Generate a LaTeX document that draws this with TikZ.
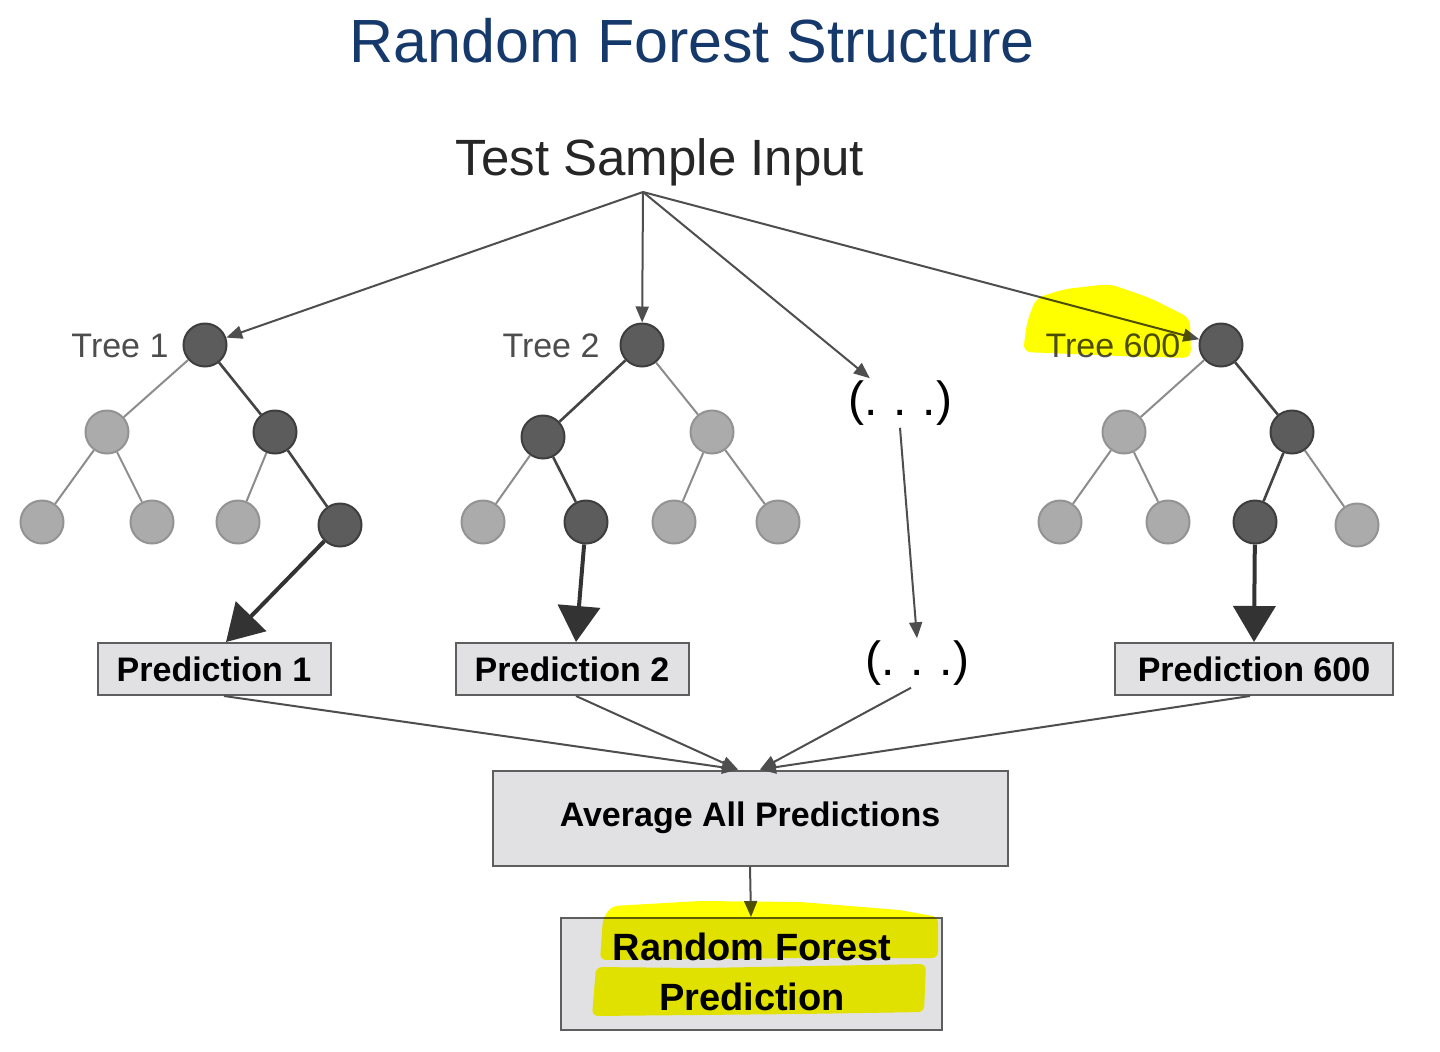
\documentclass[tikz,border=0pt]{standalone}
\usepackage{fontspec}
\setmainfont{Liberation Sans}
\usetikzlibrary{arrows.meta}
\definecolor{titleblue}{HTML}{16396B}
\definecolor{darknode}{HTML}{5C5C5C}
\definecolor{nodeedge}{HTML}{3E3E3E}
\definecolor{lightnode}{HTML}{ABABAB}
\definecolor{lightedge}{HTML}{939393}
\definecolor{edgelight}{HTML}{8C8C8C}
\definecolor{edgedark}{HTML}{444444}
\definecolor{arrowgray}{HTML}{4E4E4E}
\definecolor{thickgray}{HTML}{333333}
\definecolor{boxfill}{HTML}{E1E1E3}
\definecolor{boxedge}{HTML}{5E5E5E}
\definecolor{labelgray}{HTML}{4D4D4D}
\definecolor{hlyellow}{HTML}{FFFF00}
\tikzset{
  dk/.style={circle, draw=nodeedge, fill=darknode, line width=1pt, minimum size=21.5pt, inner sep=0pt},
  lt/.style={circle, draw=lightedge, fill=lightnode, line width=1pt, minimum size=21.5pt, inner sep=0pt},
  le/.style={draw=edgelight, line width=1pt},
  de/.style={draw=edgedark, line width=1.3pt},
  thinarrow/.style={-{Triangle[length=8pt,width=6.5pt]}, draw=arrowgray, fill=arrowgray, line width=1pt},
  thickarrow/.style={-{Triangle[length=18pt,width=21pt]}, draw=thickgray, fill=thickgray, line width=2pt},
  predbox/.style={draw=boxedge, fill=boxfill, line width=1pt, minimum height=26pt, inner sep=0pt,
    font=\bfseries\fontsize{17}{20}\selectfont},
  treelabel/.style={text=labelgray, font=\fontsize{17}{20}\selectfont, anchor=base},
  dots/.style={font=\fontsize{24}{28}\selectfont, inner sep=1pt},
}
\begin{document}
\begin{tikzpicture}[x=0.5pt,y=-0.5pt]
\useasboundingbox (0,0) rectangle (1440,1051);
\fill[white] (0,0) rectangle (1440,1051);

% title and input
\node[anchor=base, text=titleblue, font=\fontsize{30.5}{34}\selectfont] (title) at (692,62) {Random Forest Structure};
\node[anchor=base, text=black!85, font=\fontsize{25.5}{30}\selectfont] (input) at (660,175) {Test Sample Input};
\coordinate (apex) at (643,192);

% Tree 1
\node[dk] (t1r) at (205,345) {};
\node[lt] (t1a) at (107,432) {};
\node[dk] (t1b) at (275,432) {};
\node[lt] (t1c) at (42,522) {};
\node[lt] (t1d) at (152,522) {};
\node[lt] (t1e) at (238,522) {};
\node[dk] (t1f) at (340,525) {};
\draw[le] (t1r) -- (t1a);
\draw[de] (t1r) -- (t1b);
\draw[le] (t1a) -- (t1c);
\draw[le] (t1a) -- (t1d);
\draw[le] (t1b) -- (t1e);
\draw[de] (t1b) -- (t1f);
\node[treelabel] (l1) at (120,357) {Tree 1};

% Tree 2
\node[dk] (t2r) at (642,345) {};
\node[dk] (t2a) at (543,437) {};
\node[lt] (t2b) at (712,432) {};
\node[lt] (t2c) at (483,522) {};
\node[dk] (t2d) at (586,522) {};
\node[lt] (t2e) at (674,522) {};
\node[lt] (t2f) at (778,522) {};
\draw[de] (t2r) -- (t2a);
\draw[le] (t2r) -- (t2b);
\draw[le] (t2a) -- (t2c);
\draw[de] (t2a) -- (t2d);
\draw[le] (t2b) -- (t2e);
\draw[le] (t2b) -- (t2f);
\node[treelabel] (l2) at (551,357) {Tree 2};

% Tree 600
\node[dk] (t3r) at (1221,345) {};
\node[lt] (t3a) at (1124,432) {};
\node[dk] (t3b) at (1292,432) {};
\node[lt] (t3c) at (1060,522) {};
\node[lt] (t3d) at (1168,522) {};
\node[dk] (t3e) at (1255,522) {};
\node[lt] (t3f) at (1357,525) {};
\draw[le] (t3r) -- (t3a);
\draw[de] (t3r) -- (t3b);
\draw[le] (t3a) -- (t3c);
\draw[le] (t3a) -- (t3d);
\draw[de] (t3b) -- (t3e);
\draw[le] (t3b) -- (t3f);
\node[treelabel] (l3) at (1113,357) {Tree 600};

% ellipses
\node[dots] (dtop) at (900,403) {(.\,\,.\,\,.)};
\node[dots] (dbot) at (917,663) {(.\,\,.\,\,.)};

% prediction boxes
\node[predbox, minimum width=116.5pt] (p1) at (214,669) {Prediction 1};
\node[predbox, minimum width=116.5pt] (p2) at (572,669) {Prediction 2};
\node[predbox, minimum width=139pt] (p600) at (1254,669) {Prediction 600};
\node[predbox, minimum width=257.5pt, minimum height=47.5pt] (avg) at (750,818) {Average All Predictions};
\node[draw=boxedge, fill=boxfill, line width=1pt, minimum width=190.5pt, minimum height=56pt, inner sep=0pt] (rfbox) at (751,974) {};
\node[align=center, inner sep=0pt, font=\bfseries\fontsize{19}{25}\selectfont] (rftext) at (752,972) {Random Forest\\Prediction};

% input arrows
\draw[thinarrow] (apex) -- (t1r);
\draw[thinarrow] (apex) -- (t2r);
\draw[thinarrow] (apex) -- (dtop);
\draw[thinarrow] (apex) -- (t3r);

% leaf to prediction
\draw[thickarrow] (t1f) -- ([xshift=6pt]p1.north);
\draw[thickarrow] (t2d) -- ([xshift=2pt]p2.north);
\draw[thickarrow] (t3e) -- (p600.north);
\draw[thinarrow] (dtop.south) -- (dbot.north);

% predictions to average
\draw[thinarrow] ([xshift=5pt]p1.south) -- ([xshift=-6pt]avg.north);
\draw[thinarrow] ([xshift=2pt]p2.south) -- ([xshift=-6pt]avg.north);
\draw[thinarrow] ([xshift=-3pt]dbot.south) -- ([xshift=5pt]avg.north);
\draw[thinarrow] ([xshift=-2pt]p600.south) -- ([xshift=5pt]avg.north);
\draw[thinarrow] (avg.south) -- (rfbox.north);

% highlighter strokes
\begin{scope}[blend mode=multiply]
\fill[hlyellow, rounded corners=4pt] (1023,352) -- (1027,322) -- (1036,298) -- (1065,289) -- (1110,284)
  -- (1150,298) -- (1190,318) -- (1191,358) -- (1120,356) -- cycle;
\fill[hlyellow, rounded corners=3pt] (600,960) -- (603,918) -- (612,906) -- (700,901) -- (800,902)
  -- (900,910) -- (938,917) -- (938,958) -- (800,958) -- cycle;
\fill[hlyellow, rounded corners=3pt] (592,1016) -- (596,967) -- (700,968) -- (926,964) -- (924,1012) -- (800,1014) -- cycle;
\end{scope}
\end{tikzpicture}
\end{document}
